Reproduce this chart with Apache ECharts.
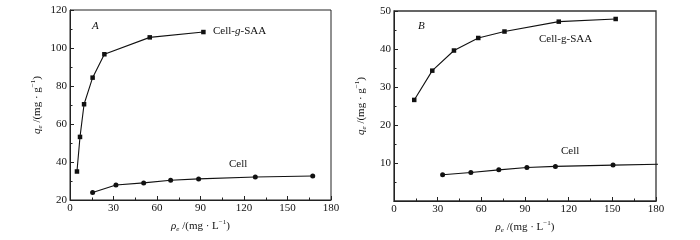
<!DOCTYPE html>
<html><head><meta charset="utf-8">
<script src="https://cdn.jsdelivr.net/npm/echarts@6/dist/echarts.min.js"></script>
<style>html,body{margin:0;padding:0;background:#fff}#c{width:700px;height:240px}</style>
</head><body><div id="c"></div>
<script>
// Panel A
const aSaaX = [4.8, 6.9, 9.7, 15.6, 23.7, 55, 92];
const aSaaY = [35, 53.2, 70.4, 84.4, 96.7, 105.6, 108.4];
const aCellX = [15.6, 31.7, 50.8, 69.4, 88.7, 127.8, 167.4];
const aCellY = [24, 27.9, 29, 30.4, 31.1, 32.1, 32.6];
// Panel B
const bSaaX = [13.9, 26.3, 41.2, 57.9, 75.9, 113.2, 152.3];
const bSaaY = [26.6, 34.3, 39.6, 42.9, 44.6, 47.2, 47.9];
const bCellX = [33.4, 52.8, 72, 91.3, 110.9, 150.5, 186];
const bCellY = [6.9, 7.5, 8.2, 8.8, 9.1, 9.45, 9.7];
const xTicks = [0, 30, 60, 90, 120, 150, 180];
const aYTicks = [20, 40, 60, 80, 100, 120];
const bYTicks = [10, 20, 30, 40, 50];

const F = 'Liberation Serif';
const zip = (xs, ys) => xs.map((x, i) => [x, ys[i]]);
const rich = {
  i: {fontFamily: F, fontSize: 11, fontStyle: 'italic', color: '#111', verticalAlign: 'middle', lineHeight: 14},
  sub: {fontFamily: F, fontSize: 7, fontStyle: 'italic', color: '#111', verticalAlign: 'bottom', lineHeight: 14},
  n: {fontFamily: F, fontSize: 11, color: '#111', verticalAlign: 'middle', lineHeight: 14},
  sup: {fontFamily: F, fontSize: 7, color: '#111', verticalAlign: 'top', lineHeight: 14}
};
const yName = '{i|q}{sub|e}{n| /(mg · g}{sup|−1}{n|)}';
const xName = '{i|ρ}{sub|e}{n| /(mg · L}{sup|−1}{n|)}';

function xAxis(idx) {
  return {
    type: 'value', gridIndex: idx, min: 0, max: 180, interval: 30,
    name: xName, nameLocation: 'middle', nameGap: 14, nameTextStyle: {rich},
    axisLine: {lineStyle: {color: '#222', width: 1}},
    axisTick: {inside: true, length: 4, lineStyle: {color: '#222'}},
    minorTick: {show: true, splitNumber: 2, length: 2.5, lineStyle: {color: '#222'}},
    axisLabel: {fontFamily: F, fontSize: 11, color: '#111', margin: 3,
      formatter: v => xTicks.includes(v) ? String(v) : ''},
    splitLine: {show: false}
  };
}
function yAxis(idx, min, max, interval, ticks) {
  return {
    type: 'value', gridIndex: idx, min, max, interval,
    name: yName, nameLocation: 'middle', nameRotate: 90, nameGap: 26, nameTextStyle: {rich},
    axisLine: {lineStyle: {color: '#222', width: 1}},
    axisTick: {inside: true, length: 4, lineStyle: {color: '#222'}},
    minorTick: {show: true, splitNumber: 2, length: 2.5, lineStyle: {color: '#222'}},
    axisLabel: {fontFamily: F, fontSize: 11, color: '#111', margin: 3,
      formatter: v => ticks.includes(v) ? String(v) : ''},
    splitLine: {show: false}
  };
}
function series(xi, data, sym) {
  return {
    type: 'line', xAxisIndex: xi, yAxisIndex: xi, data, symbol: sym,
    symbolSize: sym === 'rect' ? 4.5 : 5, clip: true, animation: false,
    lineStyle: {color: '#111', width: 1.1}, itemStyle: {color: '#111'}
  };
}
const chart = echarts.init(document.getElementById('c'), null, {renderer: 'canvas'});
chart.setOption({
  backgroundColor: '#fff',
  animation: false,
  grid: [
    {left: 70, top: 10, width: 261, height: 190, show: true, borderColor: '#222', borderWidth: 1},
    {left: 394, top: 11, width: 262, height: 190, show: true, borderColor: '#333', borderWidth: 1.3}
  ],
  xAxis: [xAxis(0), xAxis(1)],
  yAxis: [yAxis(0, 20, 120, 20, aYTicks), yAxis(1, 0, 50, 10, bYTicks)],
  series: [
    series(0, zip(aSaaX, aSaaY), 'rect'),
    series(0, zip(aCellX, aCellY), 'circle'),
    series(1, zip(bSaaX, bSaaY), 'rect'),
    series(1, zip(bCellX, bCellY), 'circle')
  ],
  graphic: [
    {type: 'text', left: 92, top: 21, style: {text: 'A', font: 'italic 11px "Liberation Serif"', fill: '#111'}},
    {type: 'text', left: 213, top: 26, style: {text: '{n|Cell-}{i|g}{n|-SAA}', rich, fill: '#111'}},
    {type: 'text', left: 229, top: 159, style: {text: 'Cell', font: '11px "Liberation Serif"', fill: '#111'}},
    {type: 'text', left: 418, top: 21, style: {text: 'B', font: 'italic 11px "Liberation Serif"', fill: '#111'}},
    {type: 'text', left: 539, top: 34, style: {text: 'Cell-g-SAA', font: '11px "Liberation Serif"', fill: '#111'}},
    {type: 'text', left: 561, top: 146, style: {text: 'Cell', font: '11px "Liberation Serif"', fill: '#111'}}
  ]
});
</script></body></html>
